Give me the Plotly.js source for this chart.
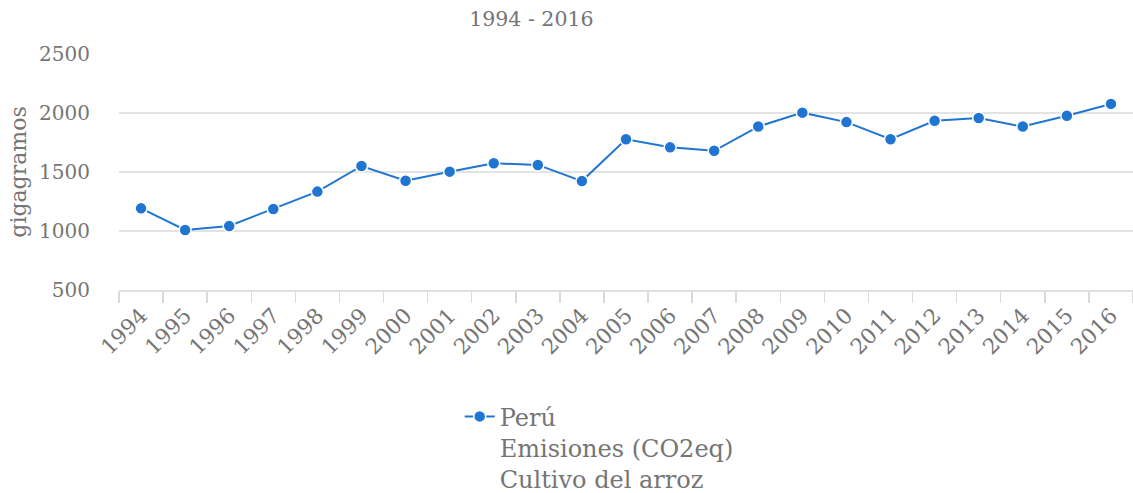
<!DOCTYPE html>
<html>
<head>
<meta charset="utf-8">
<script src="https://cdn.plot.ly/plotly-3.0.1.min.js"></script>
<style>html,body{margin:0;padding:0;background:#fff}#chart{width:1133px;height:493px}</style>
</head>
<body>
<div id="chart"></div>
<script>
const years = ["1994","1995","1996","1997","1998","1999","2000","2001","2002","2003","2004","2005","2006","2007","2008","2009","2010","2011","2012","2013","2014","2015","2016"];
const emisiones = [1192,1009,1043,1186,1334,1551,1426,1503,1574,1560,1423,1777,1709,1680,1885,2003,1923,1778,1934,1957,1885,1977,2077];
const seriesName = "Perú<br>Emisiones (CO2eq)<br>Cultivo del arroz";
const titleText = "1994 - 2016";
const yTitle = "gigagramos";
const yTicks = [500,1000,1500,2000,2500];

const font = "DejaVu Serif";
const gray = "#757575";

Plotly.newPlot("chart", [{
  type: "scatter",
  mode: "lines+markers",
  x: years,
  y: emisiones,
  name: seriesName,
  line: {color: "#1f75d1", width: 2},
  marker: {color: "#1f75d1", size: 12, line: {color: "#ffffff", width: 1.5}},
  showlegend: true
}], {
  width: 1133,
  height: 493,
  margin: {l: 119, r: 0, t: 54, b: 203, autoexpand: false},
  paper_bgcolor: "#ffffff",
  plot_bgcolor: "#ffffff",
  font: {family: font, color: gray, size: 20},
  title: {text: titleText, font: {family: font, size: 20.5, color: gray}, xref: "container", x: 0.469, xanchor: "center", yref: "container", y: 0.961, yanchor: "middle"},
  xaxis: {
    type: "category",
    automargin: false,
    range: [-0.5, years.length - 0.5],
    tickangle: -45,
    tickson: "boundaries",
    ticks: "outside",
    ticklen: 11,
    tickwidth: 1.5,
    tickcolor: "#d9d9d9",
    ticklabelstandoff: 3,
    showgrid: false,
    showline: true,
    linecolor: "#e0e0e0",
    linewidth: 1.5,
    zeroline: false,
    tickfont: {family: font, size: 21.5, color: gray}
  },
  yaxis: {
    automargin: false,
    range: [500, 2500],
    tickvals: yTicks,
    showgrid: true,
    gridcolor: "#e3e3e3",
    gridwidth: 1.5,
    zeroline: false,
    showline: false,
    ticks: "",
    ticklabelstandoff: 28,
    tickfont: {family: font, size: 20, color: gray},
    title: {text: yTitle, font: {family: font, size: 22, color: gray}, standoff: 6}
  },
  legend: {
    orientation: "h",
    x: 0.336,
    xanchor: "left",
    y: -0.442,
    yanchor: "top",
    valign: "top",
    font: {family: font, size: 24, color: gray}
  }
}, {displayModeBar: false, staticPlot: true});
</script>
</body>
</html>
